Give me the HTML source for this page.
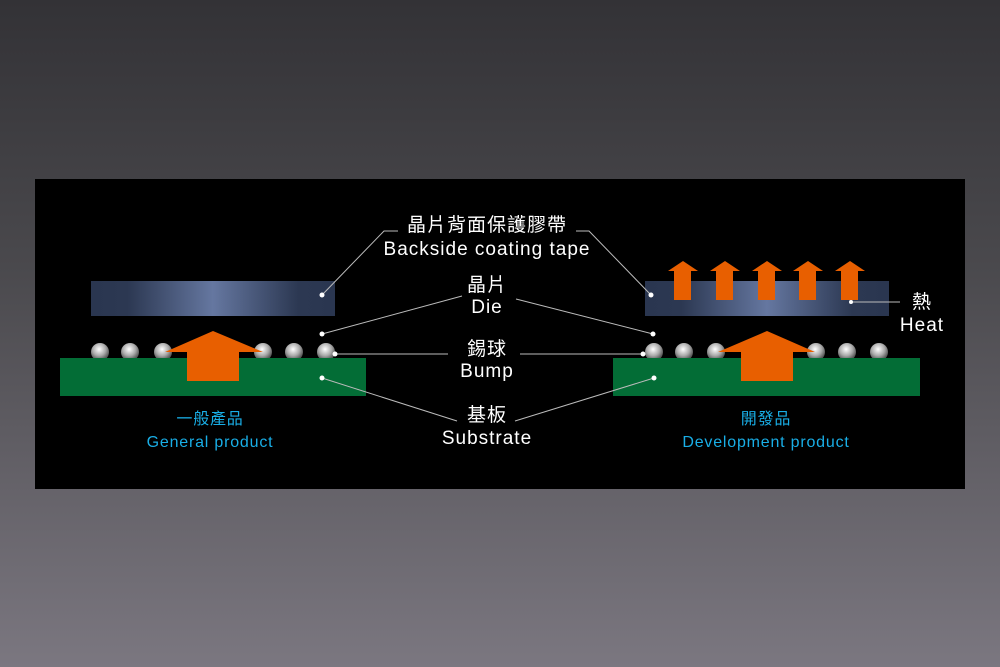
<!DOCTYPE html>
<html><head><meta charset="utf-8"><style>
body{margin:0;width:1000px;height:667px;overflow:hidden;background:linear-gradient(#333236,#4a494d 40%,#7b7780);}
svg{position:absolute;left:0;top:0}
</style></head><body>
<svg width="1000" height="667" viewBox="0 0 1000 667">
<defs>
<linearGradient id="die" x1="0" x2="1">
<stop offset="0" stop-color="#2a3650"/><stop offset="0.15" stop-color="#2c3852"/><stop offset="0.5" stop-color="#6577a0"/><stop offset="0.85" stop-color="#2c3852"/><stop offset="1" stop-color="#2a3650"/>
</linearGradient>
<radialGradient id="ball" cx="0.45" cy="0.35" r="0.6">
<stop offset="0" stop-color="#fff"/><stop offset="0.6" stop-color="#aaa"/><stop offset="1" stop-color="#555"/>
</radialGradient>
</defs>
<rect x="35" y="179" width="930" height="310" fill="#000"/>
<rect x="91" y="281" width="244" height="35" fill="url(#die)"/>
<g fill="url(#ball)">
<circle cx="100" cy="352" r="9"/><circle cx="130" cy="352" r="9"/><circle cx="163" cy="352" r="9"/>
<circle cx="263" cy="352" r="9"/><circle cx="294" cy="352" r="9"/><circle cx="326" cy="352" r="9"/>
<circle cx="654" cy="352" r="9"/><circle cx="684" cy="352" r="9"/><circle cx="716" cy="352" r="9"/>
<circle cx="816" cy="352" r="9"/><circle cx="847" cy="352" r="9"/><circle cx="879" cy="352" r="9"/>
</g>
<rect x="60" y="358" width="306" height="38" fill="#036d36"/>
<polygon points="213,331 263,352 239,352 239,381 187,381 187,352 165,352" fill="#e85f00"/>
<rect x="645" y="281" width="244" height="35" fill="url(#die)"/>
<rect x="613" y="358" width="307" height="38" fill="#036d36"/>
<polygon points="767,331 815,352 793,352 793,381 741,381 741,352 718,352" fill="#e85f00"/>
<g fill="#e85f00">
<polygon points="683,261 698,271 691,271 691,300 674,300 674,271 668,271"/>
<polygon points="725,261 740,271 733,271 733,300 716,300 716,271 710,271"/>
<polygon points="767,261 782,271 775,271 775,300 758,300 758,271 752,271"/>
<polygon points="808,261 823,271 816,271 816,300 799,300 799,271 793,271"/>
<polygon points="850,261 865,271 858,271 858,300 841,300 841,271 835,271"/>
</g>
<g stroke="#bbb" stroke-width="1" fill="none">
<polyline points="322,295 384,231 398,231"/>
<polyline points="651,295 589,231 576,231"/>
<line x1="322" y1="334" x2="462" y2="296"/>
<line x1="653" y1="334" x2="516" y2="299"/>
<line x1="335" y1="354" x2="448" y2="354"/>
<line x1="520" y1="354" x2="643" y2="354"/>
<line x1="322" y1="378" x2="457" y2="421"/>
<line x1="654" y1="378" x2="515" y2="421"/>
<line x1="851" y1="302" x2="900" y2="302"/>
</g>
<g fill="#fff">
<circle cx="322" cy="295" r="2.5"/><circle cx="651" cy="295" r="2.5"/>
<circle cx="322" cy="334" r="2.5"/><circle cx="653" cy="334" r="2.5"/>
<circle cx="335" cy="354" r="2.5"/><circle cx="643" cy="354" r="2.5"/>
<circle cx="322" cy="378" r="2.5"/><circle cx="654" cy="378" r="2.5"/>
<circle cx="851" cy="302" r="2"/>
</g>
<g font-family="Liberation Sans, Noto Sans CJK TC, sans-serif" font-size="19" letter-spacing="1" fill="#fff" text-anchor="middle">
<text x="487" y="231">晶片背面保護膠帶</text>
<text x="487" y="255">Backside coating tape</text>
<text x="487" y="291">晶片</text>
<text x="487" y="313">Die</text>
<text x="487" y="355">錫球</text>
<text x="487" y="377">Bump</text>
<text x="487" y="421">基板</text>
<text x="487" y="444">Substrate</text>
<text x="922" y="308">熱</text>
<text x="922" y="331">Heat</text>
</g>
<g font-family="Liberation Sans, Noto Sans CJK TC, sans-serif" font-size="16" letter-spacing="0.8" fill="#19aee6" text-anchor="middle">
<text x="210" y="424">一般產品</text>
<text x="210" y="447">General product</text>
<text x="766" y="424">開發品</text>
<text x="766" y="447">Development product</text>
</g>
</svg>
</body></html>
